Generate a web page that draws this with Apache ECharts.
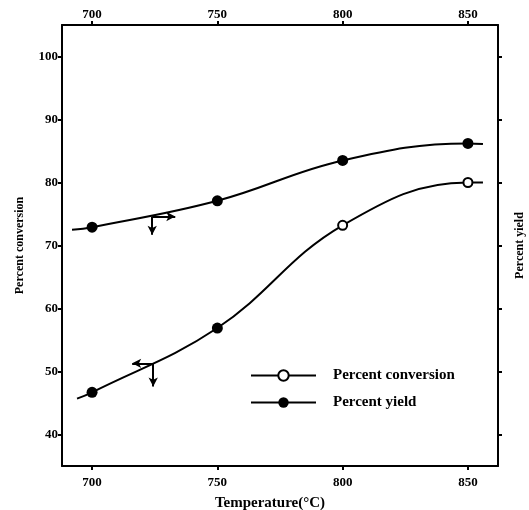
<!DOCTYPE html>
<html>
<head>
	<meta charset="utf-8">
	<title>Conversion and yield vs temperature</title>
	<script src="https://cdn.jsdelivr.net/npm/echarts@6/dist/echarts.min.js"></script>
	<style>
		html, body { margin: 0; padding: 0; background: #fff; }
	</style>
</head>
<body>
	<div id="chart" style="width: 529px;height:510px;"></div>
	<script type="text/javascript">
		// measured temperatures (markers)
		var tempTicks = [700, 750, 800, 850];
		var valueTicks = [40, 50, 60, 70, 80, 90, 100];

		// curves as drawn, including the short lead-in / lead-out
		var convTemps = [694, 700, 750, 800, 850, 856];
		var convValues = [45.7, 46.7, 56.9, 73.2, 80.0, 80.0];
		var yieldTemps = [692, 700, 750, 800, 850, 856];
		var yieldValues = [72.5, 72.9, 77.1, 83.5, 86.2, 86.1];

		// axis pointers: [temp, value] start, horizontal tip temp, vertical tip value
		var convArrow = [724.4, 51.3, 716, 47.6];
		var yieldArrow = [724, 74.6, 733.2, 71.7];

		var font = '"Liberation Serif", "DejaVu Serif", serif';

		function points(temps, vals, filledUpTo) {
			return temps.map(function (t, i) {
				var item = { value: [t, vals[i]] };
				if (tempTicks.indexOf(t) < 0) {
					item.symbol = 'none';
				} else if (t <= filledUpTo) {
					item.symbol = 'circle';
					item.symbolSize = 11;
				}
				return item;
			});
		}

		function arrows(a) {
			return {
				silent: true,
				symbol: ['none', 'arrow'],
				symbolSize: [7, 9],
				label: { show: false },
				lineStyle: { color: '#000', width: 2, type: 'solid' },
				emphasis: { disabled: true },
				data: [
					[{ coord: [a[0], a[1]] }, { coord: [a[2], a[1]] }],
					[{ coord: [a[0], a[1]] }, { coord: [a[0], a[3]] }]
				]
			};
		}

		var axisLine = { lineStyle: { color: '#000', width: 2 } };
		var tick = { lineStyle: { color: '#000', width: 2 }, length: 4 };
		var labelStyle = { color: '#000', fontFamily: font, fontWeight: 'bold', fontSize: 13 };

		var myChart = echarts.init(document.getElementById('chart'));
		var option = {
			animation: false,
			backgroundColor: '#fff',
			grid: { left: 62, right: 31, top: 25, bottom: 44, outerBoundsMode: 'none' },
			legend: {
				left: 245,
				top: 363,
				orient: 'vertical',
				itemWidth: 65,
				itemHeight: 13,
				itemGap: 12,
				textStyle: { color: '#000', fontFamily: font, fontWeight: 'bold', fontSize: 15, padding: [0, 0, 0, 12] },
				data: ['Percent conversion', 'Percent yield']
			},
			xAxis: [{
				type: 'value',
				position: 'bottom',
				min: 688,
				max: 862,
				name: 'Temperature(°C)',
				nameLocation: 'middle',
				nameGap: 30,
				nameTextStyle: { color: '#000', fontFamily: font, fontWeight: 'bold', fontSize: 15, padding: [0, 20, 0, 0] },
				axisLine: axisLine,
				axisTick: Object.assign({ customValues: tempTicks }, tick),
				axisLabel: Object.assign({ customValues: tempTicks, margin: 10 }, labelStyle),
				splitLine: { show: false }
			}, {
				type: 'value',
				position: 'top',
				min: 688,
				max: 862,
				axisLine: axisLine,
				axisTick: Object.assign({ customValues: tempTicks }, tick),
				axisLabel: Object.assign({ customValues: tempTicks, margin: 4 }, labelStyle),
				splitLine: { show: false }
			}],
			yAxis: [{
				type: 'value',
				position: 'left',
				min: 35,
				max: 105,
				name: 'Percent conversion',
				nameLocation: 'middle',
				nameRotate: 90,
				nameGap: 36,
				nameTextStyle: { color: '#000', fontFamily: font, fontWeight: 'bold', fontSize: 12 },
				axisLine: axisLine,
				axisTick: Object.assign({ customValues: valueTicks }, tick),
				axisLabel: Object.assign({ customValues: valueTicks, margin: 4 }, labelStyle),
				splitLine: { show: false }
			}, {
				type: 'value',
				position: 'right',
				min: 35,
				max: 105,
				name: 'Percent yield',
				nameLocation: 'middle',
				nameRotate: 90,
				nameGap: 16,
				nameTextStyle: { color: '#000', fontFamily: font, fontWeight: 'bold', fontSize: 12 },
				axisLine: axisLine,
				axisTick: Object.assign({ customValues: valueTicks }, tick),
				axisLabel: { show: false },
				splitLine: { show: false }
			}],
			series: [{
				name: 'Percent conversion',
				type: 'line',
				xAxisIndex: 0,
				yAxisIndex: 0,
				smooth: 0.4,
				symbol: 'emptyCircle',
				symbolSize: 9,
				color: '#000',
				itemStyle: { color: '#000', borderWidth: 2 },
				lineStyle: { color: '#000', width: 2 },
				data: points(convTemps, convValues, 750),
				markLine: arrows(convArrow)
			}, {
				name: 'Percent yield',
				type: 'line',
				xAxisIndex: 0,
				yAxisIndex: 1,
				smooth: 0.4,
				symbol: 'circle',
				symbolSize: 11,
				color: '#000',
				itemStyle: { color: '#000' },
				lineStyle: { color: '#000', width: 2 },
				data: points(yieldTemps, yieldValues, 900),
				markLine: arrows(yieldArrow)
			}]
		};
		myChart.setOption(option);
	</script>
</body>
</html>
